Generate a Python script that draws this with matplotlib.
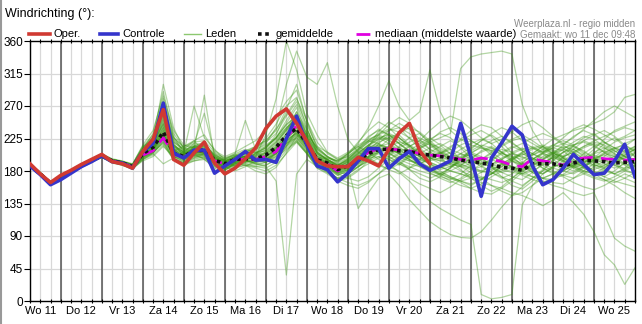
import matplotlib
matplotlib.use('Agg')
import matplotlib.pyplot as plt
from matplotlib.lines import Line2D
import numpy as np

plt.rcParams['font.family'] = ['Liberation Sans', 'DejaVu Sans']

# 6-hourly steps from wo 11 dec 06:00
hours = np.arange(60) * 6

oper = [190, 176, 164, 174, 181, 189, 196, 203, 193, 190, 184, 207, 224, 265, 196, 188, 205, 220, 191, 176,
        184, 197, 212, 239, 256, 266, 246, 221, 194, 187, 186, 186, 199, 194, 187, 210, 233, 246, 208, 190]

controle = [187, 175, 161, 168, 177, 186, 193, 201, 193, 191, 184, 207, 218, 274, 205, 198, 209, 209, 177, 187,
            196, 207, 195, 196, 192, 225, 256, 216, 187, 182, 165, 177, 194, 211, 211, 184, 197, 207, 190, 181,
            187, 194, 246, 200, 145, 198, 219, 242, 230, 187, 161, 168, 184, 203, 189, 175, 177, 194, 217, 172]

gemiddelde = [188, 176, 163, 170, 179, 187, 194, 201, 194, 191, 186, 204, 213, 234, 205, 200, 208, 209, 195, 190,
              196, 197, 197, 202, 213, 229, 239, 218, 196, 191, 182, 187, 195, 204, 210, 210, 208, 207, 204, 202,
              200, 198, 195, 193, 191, 189, 185, 184, 181, 190, 190, 190, 187, 191, 195, 194, 193, 191, 192, 193]

mediaan = [188, 176, 163, 170, 179, 187, 194, 201, 194, 191, 186, 202, 208, 226, 203, 199, 208, 208, 194, 190,
           196, 196, 196, 200, 207, 226, 243, 218, 195, 190, 180, 186, 194, 206, 211, 211, 209, 208, 204, 202,
           201, 199, 196, 195, 198, 196, 193, 188, 186, 197, 194, 192, 188, 196, 198, 199, 197, 196, 195, 196]

leden = [
    [190, 178, 165, 172, 181, 189, 196, 203, 196, 192, 188, 212, 228, 262, 210, 196, 215, 220, 198, 188, 199, 204, 210, 225, 245, 270, 282, 240, 205, 188, 178, 176, 185, 200, 218, 230, 226, 215, 205, 198, 190, 186, 195, 210, 222, 230, 220, 205, 192, 180, 176, 185, 200, 215, 226, 232, 220, 208, 200, 196],
    [186, 174, 160, 168, 177, 185, 192, 199, 191, 188, 182, 196, 205, 220, 198, 206, 204, 196, 186, 182, 190, 188, 180, 176, 185, 205, 228, 232, 212, 200, 190, 197, 210, 222, 218, 205, 194, 182, 170, 165, 172, 185, 198, 206, 200, 186, 172, 160, 155, 166, 180, 195, 206, 210, 202, 190, 182, 176, 184, 198],
    [189, 177, 164, 171, 180, 188, 195, 202, 195, 193, 188, 210, 232, 290, 228, 205, 270, 226, 210, 195, 186, 192, 205, 212, 230, 262, 255, 220, 200, 192, 185, 190, 200, 214, 235, 248, 240, 225, 212, 200, 205, 214, 222, 230, 236, 228, 214, 200, 188, 178, 170, 168, 175, 186, 198, 210, 224, 236, 242, 248],
    [187, 175, 162, 169, 178, 186, 193, 200, 193, 190, 185, 200, 210, 228, 204, 202, 214, 210, 188, 180, 192, 202, 198, 194, 200, 215, 226, 210, 188, 178, 168, 172, 182, 190, 198, 204, 212, 220, 226, 218, 206, 194, 182, 170, 160, 152, 158, 170, 182, 196, 205, 212, 208, 196, 185, 178, 172, 180, 192, 205],
    [188, 176, 163, 170, 179, 187, 194, 201, 193, 190, 186, 206, 220, 245, 212, 198, 206, 214, 202, 196, 204, 210, 206, 200, 208, 224, 250, 228, 200, 194, 186, 192, 204, 216, 206, 196, 188, 200, 214, 224, 232, 226, 212, 198, 190, 195, 206, 214, 208, 196, 184, 176, 180, 192, 204, 214, 220, 212, 200, 190],
    [190, 177, 165, 173, 182, 190, 197, 204, 197, 194, 190, 214, 222, 300, 240, 210, 202, 198, 192, 186, 180, 186, 194, 206, 218, 238, 262, 226, 198, 186, 174, 180, 192, 206, 214, 206, 196, 190, 186, 180, 176, 184, 196, 204, 198, 186, 178, 172, 168, 178, 190, 200, 196, 186, 178, 172, 168, 160, 150, 142],
    [187, 175, 162, 170, 179, 186, 193, 200, 193, 190, 186, 198, 206, 218, 196, 192, 200, 202, 190, 186, 192, 196, 190, 188, 196, 214, 236, 214, 192, 190, 184, 194, 206, 198, 190, 200, 214, 226, 232, 220, 208, 198, 188, 196, 208, 214, 206, 194, 184, 188, 196, 202, 198, 190, 186, 194, 204, 212, 216, 208],
    [189, 177, 164, 171, 180, 188, 195, 202, 195, 192, 187, 208, 215, 248, 214, 206, 218, 260, 204, 194, 198, 200, 204, 212, 226, 246, 268, 230, 204, 196, 190, 184, 188, 198, 212, 224, 230, 216, 200, 188, 184, 192, 204, 200, 188, 178, 170, 176, 190, 204, 214, 206, 194, 184, 190, 204, 218, 226, 214, 200],
    [188, 176, 163, 170, 179, 187, 194, 201, 194, 191, 186, 200, 208, 226, 208, 214, 222, 206, 190, 184, 190, 196, 200, 206, 212, 226, 240, 222, 200, 196, 188, 196, 208, 220, 226, 218, 206, 198, 204, 212, 218, 210, 196, 186, 180, 176, 182, 194, 206, 212, 204, 192, 180, 176, 184, 196, 204, 200, 190, 184],
    [186, 174, 161, 168, 177, 185, 192, 199, 192, 188, 184, 194, 200, 214, 200, 196, 204, 208, 198, 192, 200, 204, 206, 208, 220, 236, 248, 226, 196, 180, 166, 170, 180, 194, 206, 212, 204, 196, 190, 196, 204, 210, 204, 196, 186, 178, 172, 166, 160, 170, 182, 194, 206, 216, 222, 216, 206, 196, 188, 180],
    [189, 177, 165, 172, 181, 189, 196, 203, 196, 193, 189, 212, 226, 272, 218, 200, 212, 218, 200, 192, 196, 194, 192, 196, 204, 220, 232, 216, 196, 192, 184, 188, 196, 208, 222, 236, 246, 238, 224, 210, 200, 194, 188, 184, 180, 186, 196, 204, 210, 214, 206, 196, 186, 180, 186, 198, 210, 220, 226, 230],
    [188, 175, 163, 170, 179, 187, 194, 201, 194, 191, 187, 202, 210, 232, 204, 196, 202, 204, 194, 190, 198, 200, 196, 192, 206, 224, 244, 220, 194, 188, 176, 182, 194, 204, 208, 204, 198, 194, 190, 184, 178, 172, 166, 160, 168, 180, 190, 186, 176, 180, 188, 200, 210, 206, 196, 188, 184, 192, 202, 210],
    [190, 178, 164, 172, 181, 189, 196, 203, 196, 193, 188, 206, 218, 252, 214, 204, 210, 285, 198, 194, 200, 206, 214, 222, 236, 266, 300, 248, 210, 198, 194, 200, 212, 228, 236, 230, 218, 208, 200, 206, 214, 222, 214, 204, 196, 190, 196, 206, 212, 204, 196, 190, 198, 210, 222, 230, 236, 228, 216, 206],
    [187, 175, 162, 169, 178, 186, 193, 200, 192, 189, 184, 196, 204, 190, 198, 190, 196, 200, 188, 182, 188, 190, 186, 184, 192, 208, 222, 206, 186, 180, 170, 176, 186, 196, 204, 200, 192, 186, 180, 176, 172, 168, 176, 188, 196, 200, 194, 184, 176, 172, 170, 176, 186, 196, 190, 180, 172, 166, 162, 158],
    [188, 176, 163, 171, 180, 188, 195, 202, 195, 192, 188, 208, 214, 240, 210, 200, 206, 206, 192, 188, 194, 198, 200, 204, 214, 232, 246, 224, 198, 190, 182, 186, 194, 200, 206, 214, 220, 216, 208, 200, 196, 190, 186, 190, 196, 204, 210, 206, 198, 202, 210, 216, 212, 202, 194, 188, 186, 192, 198, 204],
    [189, 177, 164, 171, 180, 188, 195, 202, 194, 191, 187, 205, 222, 266, 224, 208, 216, 212, 196, 190, 196, 198, 196, 200, 212, 226, 238, 220, 200, 196, 188, 194, 204, 212, 218, 212, 204, 200, 198, 192, 186, 180, 176, 172, 168, 176, 188, 196, 202, 210, 214, 208, 198, 190, 196, 206, 212, 204, 194, 186],
    [186, 174, 161, 169, 178, 186, 193, 200, 193, 190, 185, 198, 206, 224, 202, 198, 208, 216, 204, 198, 204, 250, 210, 216, 226, 244, 258, 232, 206, 194, 186, 180, 186, 194, 200, 196, 190, 184, 190, 198, 206, 200, 190, 184, 178, 182, 190, 198, 204, 198, 190, 184, 180, 188, 196, 204, 208, 202, 196, 190],
    [188, 176, 163, 170, 179, 187, 194, 201, 194, 191, 186, 204, 212, 236, 206, 204, 210, 204, 194, 196, 202, 200, 196, 198, 206, 220, 234, 216, 194, 188, 180, 186, 196, 210, 216, 212, 206, 214, 222, 216, 204, 196, 200, 208, 216, 212, 202, 194, 188, 196, 204, 200, 192, 186, 192, 202, 196, 188, 184, 188],
    [190, 177, 164, 172, 181, 189, 196, 203, 196, 193, 189, 210, 218, 256, 216, 206, 214, 210, 196, 188, 192, 196, 200, 230, 280, 360, 320, 260, 230, 206, 196, 204, 214, 222, 230, 224, 212, 204, 196, 190, 184, 190, 198, 206, 212, 206, 196, 186, 180, 186, 196, 206, 214, 210, 200, 194, 200, 210, 218, 224],
    [187, 175, 162, 170, 179, 187, 194, 201, 193, 190, 186, 202, 210, 230, 200, 192, 198, 200, 188, 184, 190, 194, 190, 186, 166, 36, 176, 196, 186, 186, 178, 184, 196, 206, 214, 218, 210, 200, 190, 184, 176, 170, 164, 156, 150, 148, 156, 166, 178, 190, 200, 206, 198, 188, 180, 176, 180, 190, 200, 206],
    [189, 176, 164, 171, 180, 188, 195, 202, 195, 192, 187, 207, 216, 244, 212, 204, 212, 216, 202, 196, 202, 206, 210, 218, 240, 300, 346, 310, 300, 330, 270, 224, 206, 214, 224, 232, 226, 214, 204, 198, 194, 200, 210, 218, 224, 218, 206, 196, 190, 196, 206, 216, 222, 216, 206, 198, 194, 200, 208, 214],
    [188, 176, 163, 170, 179, 187, 194, 201, 194, 191, 186, 203, 212, 238, 208, 200, 206, 210, 196, 190, 194, 198, 196, 200, 210, 226, 236, 214, 192, 186, 178, 184, 192, 198, 200, 190, 178, 166, 150, 138, 128, 120, 112, 106, 9, 3, 5, 9, 133, 160, 176, 186, 190, 184, 176, 170, 166, 172, 180, 188],
    [187, 175, 162, 169, 178, 186, 193, 200, 193, 190, 185, 199, 208, 226, 202, 196, 204, 206, 192, 186, 192, 196, 194, 196, 204, 218, 230, 212, 190, 184, 176, 182, 192, 200, 206, 210, 206, 204, 210, 220, 226, 232, 322, 338, 342, 344, 346, 342, 272, 236, 214, 204, 200, 206, 214, 220, 216, 208, 200, 196],
    [188, 176, 163, 171, 180, 188, 195, 202, 195, 191, 187, 205, 214, 242, 210, 202, 208, 208, 194, 188, 194, 198, 198, 202, 214, 230, 240, 220, 196, 190, 182, 188, 196, 204, 210, 208, 204, 200, 196, 192, 186, 180, 176, 170, 164, 160, 156, 150, 146, 140, 132, 140, 150, 136, 120, 96, 64, 50, 23, 46],
    [189, 177, 164, 171, 180, 188, 195, 202, 195, 192, 188, 206, 216, 250, 216, 206, 210, 206, 190, 184, 188, 190, 188, 192, 204, 222, 234, 216, 196, 194, 188, 196, 206, 216, 224, 226, 218, 206, 194, 184, 174, 166, 160, 156, 162, 172, 180, 186, 180, 172, 166, 160, 156, 150, 146, 150, 120, 87, 76, 69],
    [188, 176, 163, 170, 179, 187, 194, 201, 194, 191, 187, 202, 210, 232, 206, 200, 206, 206, 192, 186, 192, 194, 192, 194, 202, 218, 230, 212, 192, 188, 180, 186, 128, 150, 170, 176, 160, 140, 125, 110, 100, 92, 88, 87, 96, 112, 130, 146, 158, 170, 180, 186, 190, 194, 192, 186, 180, 176, 182, 190],
    [190, 178, 165, 172, 181, 189, 196, 203, 196, 193, 188, 208, 220, 258, 220, 208, 214, 214, 200, 194, 200, 204, 206, 212, 226, 244, 256, 232, 212, 200, 194, 202, 218, 240, 270, 305, 270, 250, 262, 320, 262, 236, 224, 216, 212, 208, 204, 200, 196, 204, 214, 224, 230, 236, 240, 246, 252, 262, 282, 286],
    [187, 175, 162, 170, 179, 186, 193, 200, 193, 190, 185, 200, 208, 230, 200, 194, 202, 204, 192, 188, 194, 198, 196, 196, 206, 222, 232, 214, 192, 186, 178, 182, 190, 198, 206, 200, 190, 182, 176, 170, 176, 184, 194, 200, 194, 184, 178, 182, 192, 202, 208, 202, 194, 186, 180, 176, 184, 196, 206, 212],
    [188, 177, 164, 171, 180, 188, 195, 202, 195, 192, 188, 208, 224, 280, 232, 212, 206, 202, 196, 192, 198, 200, 202, 206, 216, 236, 258, 236, 210, 200, 192, 198, 208, 220, 228, 222, 212, 206, 212, 222, 234, 240, 232, 222, 214, 208, 214, 222, 226, 218, 210, 204, 210, 220, 228, 224, 214, 206, 214, 224],
    [189, 177, 164, 171, 180, 188, 195, 202, 195, 192, 187, 204, 212, 236, 206, 200, 208, 212, 198, 192, 198, 200, 198, 200, 210, 226, 236, 216, 194, 190, 182, 188, 198, 208, 212, 208, 200, 194, 190, 186, 182, 186, 192, 196, 192, 186, 182, 178, 176, 184, 192, 198, 194, 188, 192, 198, 202, 196, 190, 186],
    [188, 176, 163, 170, 179, 187, 194, 201, 194, 191, 186, 210, 226, 268, 220, 210, 222, 230, 208, 200, 206, 214, 222, 236, 254, 276, 292, 250, 214, 200, 192, 204, 220, 236, 248, 240, 226, 214, 222, 236, 248, 256, 250, 238, 226, 218, 224, 234, 244, 250, 240, 228, 218, 226, 238, 250, 262, 270, 262, 254],
    [187, 175, 162, 169, 178, 186, 193, 200, 192, 189, 184, 198, 204, 222, 198, 190, 194, 196, 184, 178, 184, 188, 184, 180, 188, 204, 220, 204, 184, 176, 166, 160, 156, 164, 176, 186, 180, 170, 162, 156, 150, 158, 168, 176, 170, 160, 152, 146, 150, 160, 170, 176, 172, 164, 158, 154, 160, 168, 176, 170],
    [189, 177, 165, 172, 181, 189, 196, 203, 196, 193, 189, 214, 230, 276, 226, 212, 218, 216, 200, 194, 200, 206, 212, 220, 232, 256, 276, 244, 214, 206, 198, 206, 216, 224, 230, 236, 240, 232, 220, 210, 204, 212, 224, 236, 244, 240, 228, 218, 210, 204, 198, 204, 216, 228, 236, 230, 220, 212, 206, 214],
    [188, 176, 163, 170, 179, 187, 194, 201, 193, 190, 186, 204, 214, 240, 210, 204, 208, 204, 190, 184, 188, 192, 196, 202, 208, 218, 226, 208, 190, 184, 176, 170, 166, 172, 184, 196, 204, 196, 186, 178, 170, 164, 170, 180, 190, 196, 190, 182, 174, 168, 164, 170, 180, 188, 184, 176, 168, 164, 170, 178],
    [187, 175, 162, 169, 178, 186, 193, 200, 193, 190, 185, 202, 212, 234, 204, 198, 204, 210, 200, 194, 200, 204, 208, 214, 224, 240, 252, 226, 202, 198, 194, 204, 214, 206, 196, 188, 196, 208, 218, 226, 216, 204, 196, 204, 214, 222, 228, 220, 208, 198, 192, 198, 206, 214, 208, 198, 190, 184, 190, 198],
    [190, 178, 165, 172, 181, 189, 196, 203, 196, 193, 189, 216, 236, 284, 236, 216, 212, 208, 196, 190, 194, 198, 204, 214, 226, 250, 272, 238, 206, 196, 186, 192, 202, 212, 220, 226, 232, 240, 234, 222, 210, 200, 194, 190, 196, 206, 216, 224, 230, 222, 212, 204, 200, 206, 214, 222, 228, 234, 240, 236],
    [186, 174, 161, 168, 177, 185, 192, 199, 192, 188, 184, 196, 202, 216, 196, 188, 194, 198, 186, 182, 186, 188, 186, 188, 196, 212, 222, 204, 184, 178, 170, 176, 186, 194, 190, 182, 176, 184, 196, 206, 198, 188, 180, 174, 170, 176, 186, 196, 204, 198, 188, 180, 174, 170, 176, 186, 194, 188, 180, 176],
    [189, 177, 164, 171, 180, 188, 195, 202, 195, 192, 188, 206, 218, 254, 216, 206, 212, 214, 198, 192, 198, 202, 204, 208, 220, 238, 250, 228, 204, 196, 188, 194, 204, 216, 226, 230, 222, 212, 204, 198, 194, 190, 186, 182, 186, 194, 204, 212, 218, 226, 232, 226, 216, 206, 198, 192, 188, 194, 202, 210],
    [188, 176, 163, 170, 179, 187, 194, 201, 194, 191, 186, 200, 206, 224, 200, 194, 200, 202, 190, 186, 190, 194, 194, 196, 204, 216, 228, 210, 190, 186, 182, 190, 200, 210, 216, 212, 204, 196, 188, 180, 174, 180, 188, 198, 206, 212, 206, 198, 190, 182, 176, 184, 194, 204, 212, 218, 212, 204, 196, 190],
    [187, 175, 162, 170, 179, 187, 194, 201, 193, 190, 186, 204, 216, 246, 214, 204, 206, 206, 194, 188, 192, 194, 192, 196, 210, 232, 262, 238, 208, 194, 180, 186, 198, 214, 230, 244, 254, 246, 232, 218, 206, 196, 186, 178, 172, 168, 164, 170, 180, 192, 204, 212, 218, 214, 204, 194, 184, 176, 170, 164],
    [189, 177, 164, 171, 180, 188, 195, 202, 195, 192, 187, 202, 210, 230, 204, 198, 204, 206, 194, 190, 196, 200, 202, 204, 212, 224, 232, 214, 196, 192, 186, 192, 202, 196, 188, 182, 190, 202, 212, 218, 212, 204, 198, 194, 190, 186, 190, 198, 206, 212, 216, 210, 200, 192, 186, 182, 188, 196, 204, 210],
    [188, 176, 163, 170, 179, 187, 194, 201, 194, 191, 187, 208, 222, 260, 222, 210, 214, 218, 202, 194, 196, 198, 202, 210, 222, 240, 252, 230, 206, 196, 188, 196, 210, 226, 238, 230, 218, 208, 200, 194, 198, 206, 216, 222, 214, 202, 192, 186, 182, 188, 196, 204, 212, 216, 220, 214, 206, 200, 196, 192],
    [187, 175, 162, 169, 178, 186, 193, 200, 193, 190, 185, 200, 206, 220, 196, 190, 198, 204, 196, 190, 196, 200, 196, 192, 198, 210, 220, 204, 188, 182, 174, 180, 190, 200, 208, 214, 210, 200, 190, 182, 176, 170, 166, 170, 178, 188, 198, 204, 200, 192, 184, 178, 174, 178, 186, 196, 206, 212, 208, 200],
    [190, 178, 165, 172, 181, 189, 196, 203, 196, 193, 188, 210, 224, 270, 226, 214, 220, 222, 206, 198, 202, 208, 214, 222, 238, 258, 280, 250, 220, 204, 196, 200, 210, 222, 232, 238, 234, 226, 216, 206, 200, 198, 204, 212, 222, 232, 240, 234, 222, 212, 206, 214, 226, 238, 244, 238, 230, 222, 228, 236],
    [188, 176, 163, 170, 179, 187, 194, 201, 194, 191, 186, 202, 212, 232, 202, 196, 202, 204, 192, 186, 190, 192, 190, 192, 200, 214, 224, 206, 188, 180, 170, 164, 160, 166, 176, 190, 200, 206, 200, 190, 180, 172, 166, 162, 168, 176, 186, 194, 188, 178, 170, 164, 162, 170, 180, 190, 196, 190, 182, 176],
]

dagen = ['Wo 11', 'Do 12', 'Vr 13', 'Za 14', 'Zo 15', 'Ma 16', 'Di 17', 'Wo 18',
         'Do 19', 'Vr 20', 'Za 21', 'Zo 22', 'Ma 23', 'Di 24', 'Wo 25']

W, H = 642, 324
fig = plt.figure(figsize=(W / 100, H / 100), dpi=100)
ax = fig.add_axes([30 / W, (H - 301) / H, 605 / W, 260 / H])

# grid: 6-hourly thin lines, dark line at midnight
for h in np.arange(0, 355, 6):
    ax.axvline(h, color='#d8d8d8', lw=0.9, zorder=0)
for y in range(45, 360, 45):
    ax.axhline(y, color='#d8d8d8', lw=0.9, zorder=0)
for h in np.arange(18, 354, 24):
    ax.axvline(h, color='#555555', lw=1.1, zorder=0.5)

for lid in leden:
    ax.plot(hours, lid, color='#389410', alpha=0.38, lw=0.9, zorder=1)

ax.plot(hours, mediaan, color='#e000e0', lw=2, dashes=(5, 3), zorder=3)
ax.plot(hours, gemiddelde, color='#111111', lw=2.6, dashes=(1, 1), zorder=4)
ax.plot(hours[:len(controle)], controle, color='#3535cc', lw=2.6, zorder=5)
ax.plot(hours[:len(oper)], oper, color='#d03a32', lw=2.6, zorder=6)

ax.set_xlim(0, 354)
ax.set_ylim(0, 360)
ax.set_yticks(range(0, 361, 45))
ax.set_xticks(np.arange(6, 354, 24))
ax.set_xticklabels(dagen)
ax.set_xticks(np.arange(0, 355, 6), minor=True)
ax.tick_params(axis='y', labelsize=8.5, length=4, width=0.8, pad=1)
ax.tick_params(axis='x', which='both', labelsize=8, length=3, width=0.8, pad=2,
               top=True, direction='inout')
for s in ax.spines.values():
    s.set_color('black')
    s.set_linewidth(1)

# title, legend and source text
fig.text(5 / W, 1 - 14 / H, 'Windrichting (°):', fontsize=9, va='center', ha='left')

ly = 1 - 34 / H
def leg(x0, x1, label, **kw):
    fig.add_artist(Line2D([x0 / W, x1 / W], [ly, ly], transform=fig.transFigure, **kw))
    fig.text((x1 + 4) / W, ly, label, fontsize=8, va='center', ha='left')

leg(29, 50, 'Oper.', color='#d03a32', lw=2.6)
leg(100, 118, 'Controle', color='#3535cc', lw=2.6)
leg(184, 201, 'Leden', color='#8cc870', lw=1)
leg(258, 272, 'gemiddelde', color='#111111', lw=2.6, dashes=(1, 1))
leg(356, 371, 'mediaan (middelste waarde)', color='#e000e0', lw=2, dashes=(5, 3))

fig.text(635 / W, 1 - 24 / H, 'Weerplaza.nl - regio midden', fontsize=7,
         color='#8a8a8a', ha='right', va='center')
fig.text(635 / W, 1 - 35 / H, 'Gemaakt: wo 11 dec 09:48', fontsize=7,
         color='#8a8a8a', ha='right', va='center')

fig.add_artist(Line2D([1.5 / W, 1.5 / W], [0, 1], transform=fig.transFigure, color='#999999', lw=1.5))

fig.savefig('out.png', dpi=100)
